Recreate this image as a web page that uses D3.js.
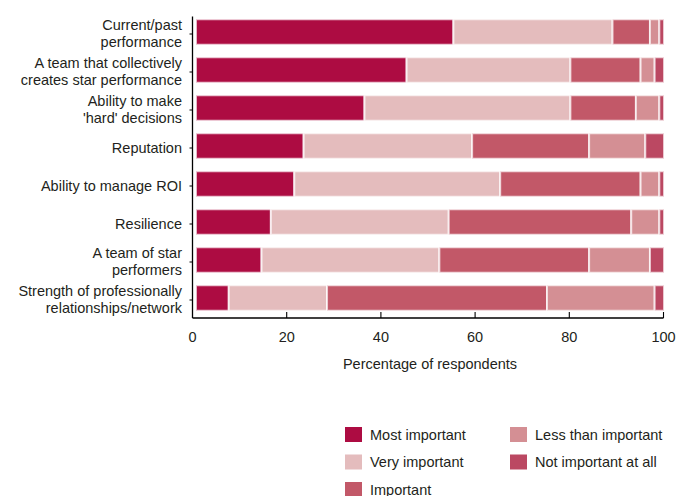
<!DOCTYPE html>
<html>
<head>
<meta charset="utf-8">
<script src="https://cdn.jsdelivr.net/npm/d3@7"></script>
<style>
  body { margin: 0; background: #fff; }
  text { font-family: "Liberation Sans", Arial, sans-serif; fill: #231f20; }
</style>
</head>
<body>
<div id="chart"></div>
<script>
// categories, top to bottom
var categories = [
  ['Current/past', 'performance'],
  ['A team that collectively', 'creates star performance'],
  ['Ability to make', "'hard' decisions"],
  ['Reputation'],
  ['Ability to manage ROI'],
  ['Resilience'],
  ['A team of star', 'performers'],
  ['Strength of professionally', 'relationships/network']
]
var seriesNames = ['Most important', 'Very important', 'Important', 'Less than important', 'Not important at all']
var colors = ['#ad0c42', '#e4bcbd', '#c25868', '#d48f94', '#bb4862']

// percentage of respondents, one array per series
var mostImportant   = [55, 45, 36, 23, 21, 16, 14, 7]
var veryImportant   = [34, 35, 44, 36, 44, 38, 38, 21]
var important       = [8, 15, 14, 25, 30, 39, 32, 47]
var lessImportant   = [2, 3, 5, 12, 4, 6, 13, 23]
var notImportant    = [1, 2, 1, 4, 1, 1, 3, 2]
var xTicks = [0, 20, 40, 60, 80, 100]

var width = 686, height = 496
var fs = 14.5
var svg = d3.select('#chart').append('svg').attr('width', width).attr('height', height)

var rows = categories.map(function(c, i){
  return {
    key: i,
    label: c,
    'Most important': mostImportant[i],
    'Very important': veryImportant[i],
    'Important': important[i],
    'Less than important': lessImportant[i],
    'Not important at all': notImportant[i]
  }
})

var x = d3.scaleLinear().domain([0, 100]).range([192.5, 663.5])
// bars sit slightly inside the axis in the original
var xb = d3.scaleLinear().domain([0, 100]).range([196, 664])
var y = d3.scaleBand().domain(d3.range(categories.length)).range([13, 317]).paddingInner(0.33).paddingOuter(0.165)
var color = d3.scaleOrdinal().domain(seriesNames).range(colors)

var stack = d3.stack().keys(seriesNames)(rows)

svg.append('g').selectAll('g').data(stack).enter()
  .append('g')
  .attr('fill', function(d){ return color(d.key) })
  .selectAll('rect').data(function(d){ return d }).enter()
  .append('rect')
  .attr('x', function(d){ return xb(d[0]) })
  .attr('y', function(d){ return y(d.data.key) })
  .attr('width', function(d){ return Math.max(0, xb(d[1]) - xb(d[0])) })
  .attr('height', y.bandwidth())
  .attr('stroke', '#fff')
  .attr('stroke-opacity', 0.7)
  .attr('stroke-width', 2)

// x axis
var axisY = 318
var xAxis = svg.append('g')
xAxis.append('line')
  .attr('x1', x(0)).attr('x2', x(100))
  .attr('y1', axisY).attr('y2', axisY)
  .attr('stroke', '#000').attr('stroke-width', 1.3)
xAxis.selectAll('.tick').data(xTicks.slice(1)).enter()
  .append('line')
  .attr('x1', function(d){ return x(d) }).attr('x2', function(d){ return x(d) })
  .attr('y1', axisY).attr('y2', axisY - 6)
  .attr('stroke', '#000').attr('stroke-width', 1.1)
xAxis.selectAll('text').data(xTicks).enter()
  .append('text')
  .attr('x', function(d){ return x(d) })
  .attr('y', 342)
  .attr('text-anchor', 'middle')
  .attr('font-size', fs)
  .text(function(d){ return d })
svg.append('text')
  .attr('x', 430).attr('y', 369)
  .attr('text-anchor', 'middle')
  .attr('font-size', fs)
  .text('Percentage of respondents')

// y axis
var yAxis = svg.append('g')
yAxis.append('line')
  .attr('x1', x(0)).attr('x2', x(0))
  .attr('y1', 16.5).attr('y2', axisY)
  .attr('stroke', '#000').attr('stroke-width', 1.3)
yAxis.selectAll('.ytick').data(rows).enter()
  .append('line')
  .attr('x1', x(0) - 3).attr('x2', x(0))
  .attr('y1', function(d){ return y(d.key) + y.bandwidth() / 2 + 2 })
  .attr('y2', function(d){ return y(d.key) + y.bandwidth() / 2 + 2 })
  .attr('stroke', '#000')
var labels = yAxis.selectAll('.ylab').data(rows).enter()
  .append('text')
  .attr('text-anchor', 'end')
  .attr('font-size', fs)
  .attr('y', function(d){ return y(d.key) + y.bandwidth() / 2 })
labels.selectAll('tspan').data(function(d){
    var n = d.label.length
    return d.label.map(function(t, j){ return { t: t, dy: (j - (n - 1) / 2) * 17.5 } })
  }).enter()
  .append('tspan')
  .attr('x', 182)
  .attr('dy', function(d, j){ return j == 0 ? (d.dy + 6.5) : 17.5 })
  .text(function(d){ return d.t })

// legend, column-major with 3 rows
var legend = svg.append('g')
var item = legend.selectAll('g').data(seriesNames).enter()
  .append('g')
  .attr('transform', function(d, i){
    var col = Math.floor(i / 3), row = i % 3
    return 'translate(' + (345 + col * 165) + ',' + (427 + row * 27.5) + ')'
  })
item.append('rect')
  .attr('width', 17).attr('height', 15)
  .attr('fill', function(d){ return color(d) })
item.append('text')
  .attr('x', 25).attr('y', 12.5)
  .attr('font-size', fs)
  .text(function(d){ return d })
</script>
</body>
</html>
